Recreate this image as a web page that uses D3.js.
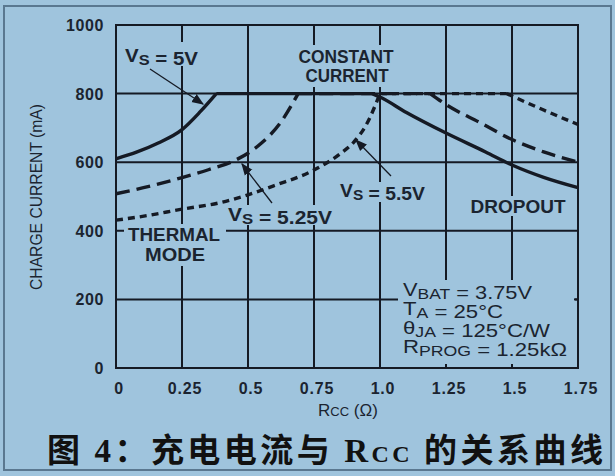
<!DOCTYPE html>
<html>
<head>
<meta charset="utf-8">
<script src="https://cdn.jsdelivr.net/npm/d3@7"></script>
<style>
  body { margin: 0; background: #9fc4dd; }
  text { font-family: "Liberation Sans", Arial, sans-serif; fill: #1b2430; }
  .nar { font-family: "Liberation Sans Narrow", "Liberation Sans", sans-serif; }
</style>
</head>
<body>
<svg id="chart" width="615" height="476"></svg>
<script>
// axis ticks
var xTicks = [0, 0.25, 0.5, 0.75, 1.0, 1.25, 1.5, 1.75];
var xTickLabels = ['0', '0.25', '0.5', '0.75', '1.0', '1.25', '1.5', '1.75'];
var yTicks = [0, 200, 400, 600, 800, 1000];

// charge current (mA) vs Rcc (ohm)
var vs5 = [[0, 610], [0.08, 630], [0.16, 656], [0.25, 695], [0.32, 748], [0.38, 800],
           [0.97, 800], [1.0, 790], [1.1, 745], [1.25, 685], [1.4, 630], [1.5, 592], [1.62, 556], [1.75, 526]];
var vs525 = [[0, 508], [0.1, 525], [0.25, 555], [0.35, 578], [0.45, 605], [0.55, 655], [0.62, 712], [0.69, 800],
             [1.19, 800], [1.25, 768], [1.38, 715], [1.5, 666], [1.62, 630], [1.75, 600]];
var vs55 = [[0, 431], [0.1, 442], [0.25, 463], [0.4, 483], [0.5, 505], [0.6, 532], [0.75, 577], [0.85, 625],
            [0.9, 658], [0.95, 712], [1.0, 800], [1.48, 800], [1.5, 793], [1.62, 752], [1.75, 710]];

var bg = '#9fc4dd';
var ink = '#151a24';

var svg = d3.select('#chart');
var x = d3.scaleLinear().domain([0, 1.75]).range([116, 578]);
var y = d3.scaleLinear().domain([0, 1000]).range([368, 25]);

// outer frame
svg.append('rect').attr('x', 0).attr('y', 0).attr('width', 615).attr('height', 476).attr('fill', bg);
svg.append('rect').attr('x', 4).attr('y', 6).attr('width', 607).attr('height', 464)
  .attr('fill', 'none').attr('stroke', '#5a7890').attr('stroke-width', 2);

// grid
var grid = svg.append('g').attr('stroke', ink).attr('stroke-width', 2);
grid.selectAll('.vg').data(xTicks).enter().append('line')
  .attr('x1', function (d) { return x(d); }).attr('x2', function (d) { return x(d); })
  .attr('y1', y(0)).attr('y2', y(1000));
grid.selectAll('.hg').data(yTicks).enter().append('line')
  .attr('x1', x(0)).attr('x2', x(1.75))
  .attr('y1', function (d) { return y(d); }).attr('y2', function (d) { return y(d); });

// label backgrounds that break the grid
var masks = [[121, 42, 82, 24], [290, 45, 116, 42], [224, 205, 112, 20], [336, 182, 94, 20],
             [466, 196, 104, 20], [124, 224, 102, 42], [398, 280, 177, 86]];
svg.selectAll('.mask').data(masks).enter().append('rect')
  .attr('x', function (d) { return d[0]; }).attr('y', function (d) { return d[1]; })
  .attr('width', function (d) { return d[2]; }).attr('height', function (d) { return d[3]; })
  .attr('fill', bg);

// plot frame and the tick stubs that stay visible under the note box
svg.append('rect').attr('x', x(0)).attr('y', y(1000)).attr('width', x(1.75) - x(0)).attr('height', y(0) - y(1000))
  .attr('fill', 'none').attr('stroke', ink).attr('stroke-width', 2);
[1.25, 1.5].forEach(function (d) {
  svg.append('line').attr('x1', x(d)).attr('x2', x(d)).attr('y1', y(0)).attr('y2', y(0) - 4)
    .attr('stroke', ink).attr('stroke-width', 2);
});
svg.append('line').attr('x1', x(1.75)).attr('x2', x(1.75) - 4).attr('y1', y(200)).attr('y2', y(200))
  .attr('stroke', ink).attr('stroke-width', 2);

// curves: thermal, flat and dropout parts drawn separately so the corners stay sharp
var line = d3.line().x(function (d) { return x(d[0]); }).y(function (d) { return y(d[1]); })
  .curve(d3.curveMonotoneX);
function curvePath(data) {
  var first = -1, last = -1;
  for (var i = 0; i < data.length; i++) {
    if (data[i][1] === 800) { if (first < 0) first = i; last = i; }
  }
  return line(data.slice(0, first + 1)) + line(data.slice(first, last + 1)) + line(data.slice(last));
}
var series = [
  {data: vs55, dash: '7,5'},
  {data: vs525, dash: '14,7'},
  {data: vs5, dash: null}
];
series.forEach(function (s) {
  svg.append('path').attr('d', curvePath(s.data)).attr('fill', 'none')
    .attr('stroke', ink).attr('stroke-width', 3.4)
    .attr('stroke-dasharray', s.dash);
});

// tick labels
svg.selectAll('.yl').data(yTicks).enter().append('text')
  .attr('x', 104).attr('y', function (d) { return y(d) + 6; })
  .attr('text-anchor', 'end').attr('font-size', 16).attr('font-weight', 'bold').attr('letter-spacing', 0.6)
  .text(function (d) { return d; });
svg.selectAll('.xl').data(xTicks).enter().append('text')
  .attr('x', function (d) { return x(d) + 3; }).attr('y', 394)
  .attr('text-anchor', 'middle').attr('font-size', 16).attr('font-weight', 'bold').attr('letter-spacing', 0.8)
  .text(function (d, i) { return xTickLabels[i]; });

// axis titles
svg.append('text').attr('class', 'nar').attr('transform', 'translate(42,197) rotate(-90)')
  .attr('text-anchor', 'middle').attr('font-size', 17).attr('textLength', 186).attr('lengthAdjust', 'spacingAndGlyphs')
  .text('CHARGE CURRENT (mA)');
var xt = svg.append('text').attr('x', 348).attr('y', 416).attr('text-anchor', 'middle').attr('font-size', 17);
xt.append('tspan').text('R');
xt.append('tspan').attr('font-size', 13).text('CC');
xt.append('tspan').text(' (Ω)');

// labels; an array inside parts is a subscript
function subText(px, py, size, parts, width, anchor) {
  var t = svg.append('text').attr('class', 'nar').attr('x', px).attr('y', py)
    .attr('font-size', size).attr('font-weight', 'bold')
    .attr('text-anchor', anchor || 'start');
  if (width) t.attr('textLength', width).attr('lengthAdjust', 'spacingAndGlyphs');
  parts.forEach(function (p) {
    if (typeof p !== 'string') {
      t.append('tspan').attr('dy', 3).attr('font-size', size * 0.8).text(p[0]);
      t.append('tspan').attr('dy', -3).text('');
    } else {
      t.append('tspan').text(p);
    }
  });
  return t;
}
subText(125, 62, 18, ['V', ['S'], ' = 5V'], 73);
subText(228, 221, 18, ['V', ['S'], ' = 5.25V'], 104);
subText(340, 197, 18, ['V', ['S'], ' = 5.5V'], 85);
subText(346, 63, 18, ['CONSTANT'], 95, 'middle');
subText(347, 82, 18, ['CURRENT'], 83, 'middle');
subText(518, 213, 18, ['DROPOUT'], 95, 'middle');
subText(174, 241, 18, ['THERMAL'], 92, 'middle');
subText(175, 261, 18, ['MODE'], 60, 'middle');

var boxLines = [
  ['V', ['BAT'], ' = 3.75V'],
  ['T', ['A'], ' = 25°C'],
  ['θ', ['JA'], ' = 125°C/W'],
  ['R', ['PROG'], ' = 1.25kΩ']
];
var boxWidths = [129, 100, 147, 164];
boxLines.forEach(function (p, i) {
  subText(403, 296 + i * 19, 19, p, boxWidths[i]).attr('font-weight', 'normal');
});

// arrows
svg.append('defs').append('marker').attr('id', 'ah').attr('viewBox', '0 0 10 10')
  .attr('refX', 9).attr('refY', 5).attr('markerWidth', 12).attr('markerHeight', 12)
  .attr('markerUnits', 'userSpaceOnUse').attr('orient', 'auto')
  .append('path').attr('d', 'M0,1 L10,5 L0,9 Z').attr('fill', ink);
var arrows = [[150, 69, 203, 104], [272, 203, 242, 164], [391, 176, 356, 140]];
svg.selectAll('.arr').data(arrows).enter().append('line')
  .attr('x1', function (d) { return d[0]; }).attr('y1', function (d) { return d[1]; })
  .attr('x2', function (d) { return d[2]; }).attr('y2', function (d) { return d[3]; })
  .attr('stroke', ink).attr('stroke-width', 1.3).attr('marker-end', 'url(#ah)');

// chinese caption
var cap = svg.append('text').attr('x', 47).attr('y', 462).attr('font-size', 33)
  .attr('font-weight', 'bold').attr('textLength', 556).attr('lengthAdjust', 'spacing')
  .style('font-family', '"Noto Sans CJK SC", sans-serif').style('fill', '#111');
cap.append('tspan').text('图 ');
cap.append('tspan').style('font-family', '"Liberation Serif", serif').text('4');
cap.append('tspan').text('：充电电流与 ');
cap.append('tspan').style('font-family', '"Liberation Serif", serif').text('R');
cap.append('tspan').style('font-family', '"Liberation Serif", serif').attr('font-size', 24).text('CC');
cap.append('tspan').text(' 的关系曲线');
</script>
</body>
</html>
